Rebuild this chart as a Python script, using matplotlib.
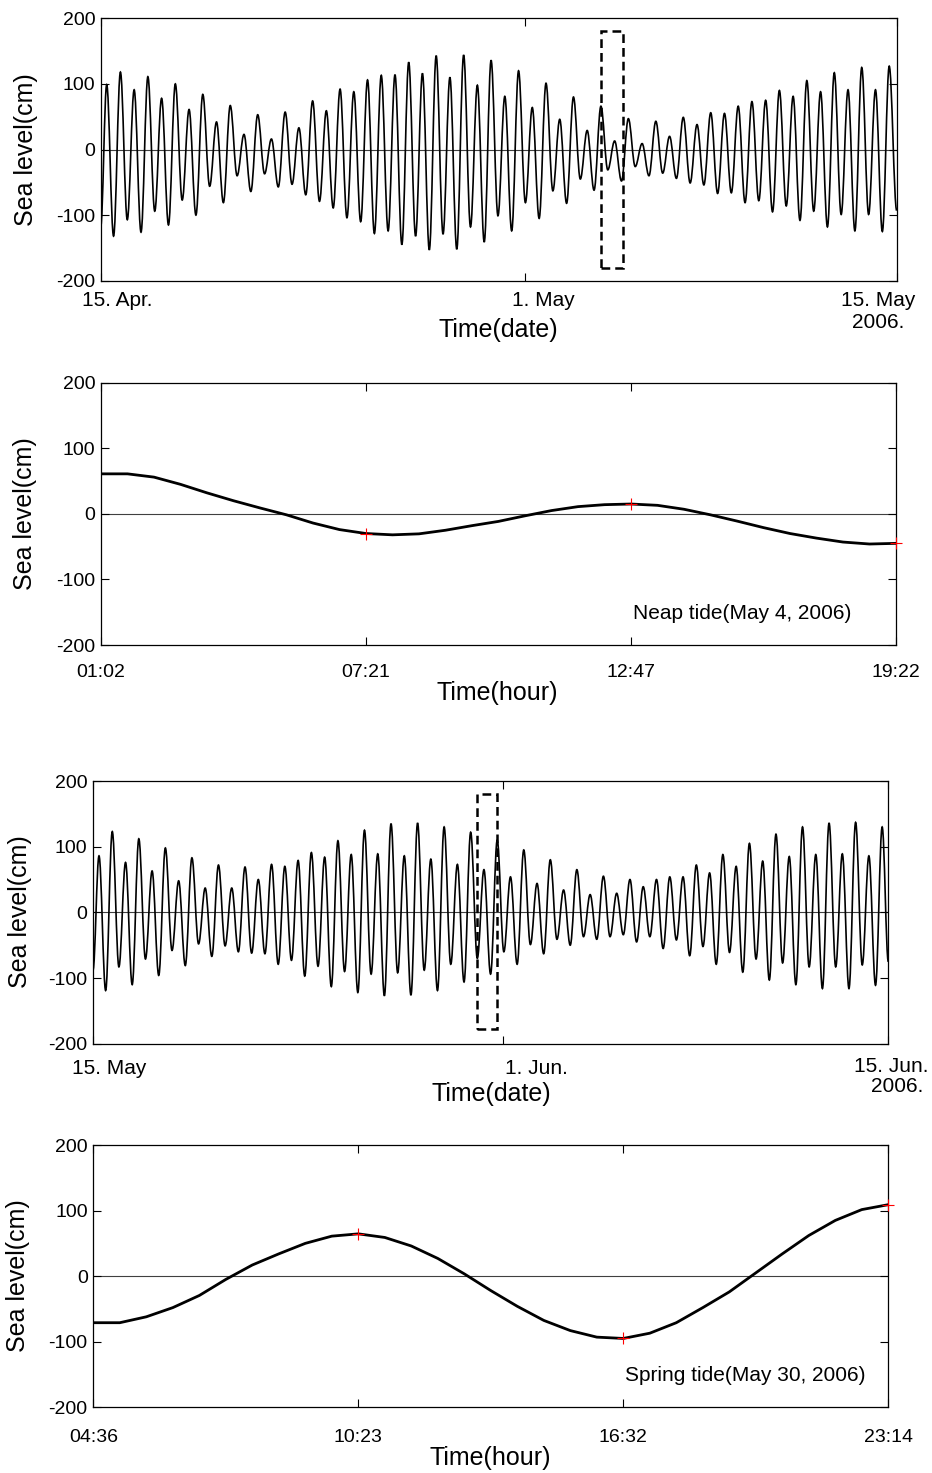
import numpy as np
import matplotlib
matplotlib.use("Agg")
import matplotlib.pyplot as plt
from matplotlib.patches import Rectangle, PathPatch
from matplotlib.path import Path

plt.rcParams['font.family'] = ['Liberation Sans', 'DejaVu Sans']
plt.rcParams['axes.unicode_minus'] = False

# ---------------- data ----------------
# Panel 1: 15 Apr - 15 May 2006, successive high/low water levels (cm)
p1_start, p1_end = -118, -93
p1_extrema = [99, -132, 118, -107, 91, -126, 111, -94, 78, -115, 100, -77, 61, -100,
              84, -56, 42, -81, 67, -40, 23, -64, 53, -37, 16, -57, 57, -53, 33, -69,
              74, -79, 59, -89, 92, -104, 88, -110, 106, -128, 113, -124, 114, -145,
              133, -132, 116, -153, 143, -129, 110, -152, 144, -118, 98,
              -141, 136, -101, 81, -124, 120, -81, 64, -105, 101, -63, 46, -82, 80,
              -45, 29, -62, 66, -31, 13, -48, 47, -26, 9, -40, 43, -36, 20, -44, 49,
              -51, 38, -54, 56, -67, 55, -66, 66, -81, 73, -78, 75, -95, 90, -86, 81,
              -108, 105, -94, 88, -118, 117, -99, 91, -124, 125, -99, 91, -125, 127]
p1_first_day = 0.226          # day of first extremum after 15 Apr 00:00
p1_days = 30
p1_ticklabels = ['15. Apr.', '1. May', '15. May', '2006.']
p1_box = (18.85, 19.68, -180, 180)   # neap-tide window (days, cm)

# Panel 3: 15 May - 15 Jun 2006
p3_start, p3_end = -88, -75
p3_extrema = [86, -119, 123, -83, 76, -110, 112, -71, 63, -96, 98, -58, 48, -81, 83,
              -48, 37, -67, 72, -51, 37, -60, 69, -62, 50, -63, 73, -79, 70, -73, 79,
              -97, 91, -82, 84, -113, 109, -90, 88, -122, 125, -94, 89, -127, 135, -92,
              86, -126, 136, -88, 81, -119, 130, -79, 73, -106, 122,
              -70, 65, -94, 110, -60, 54, -79, 95, -49, 44, -63, 80, -41, 34, -50, 65,
              -37, 27, -41, 55, -37, 29, -34, 50, -45, 39, -37, 50, -55, 54, -42, 54,
              -66, 72, -52, 60, -79, 88, -61, 70, -91, 105, -71, 78, -103, 119, -77, 85,
              -110, 130, -83, 88, -116, 136, -83, 89, -116, 137, -80, 86, -111, 130]
p3_first_day = 0.234
p3_days = 31
p3_ticklabels = ['15. May', '1. Jun.', '15. Jun.', '2006.']
p3_box = (14.96, 15.76, -178, 180)

half_period_days = 0.2587     # spacing of successive high/low waters

# Panel 2: neap tide, May 4 2006 (samples)
p2_values = [61, 61, 56, 45, 32, 20, 9, -1.5, -14, -24, -30, -32, -30.5, -25, -18,
             -11.5, -3, 5, 11, 14, 15, 13, 7, -1.5, -11, -21, -30, -37, -43, -46, -45]
p2_ticklabels = ['01:02', '07:21', '12:47', '19:22']
p2_marks = [10, 20, 30]

# Panel 4: spring tide, May 30 2006 (samples)
p4_values = [-71, -71, -62, -48, -29.5, -5, 17, 34, 50, 61, 64.5, 59, 46, 27, 3.5,
             -22, -46, -67.5, -83, -93, -95, -87, -71, -48, -24, 5, 34, 62, 85, 101.5, 109]
p4_ticklabels = ['04:36', '10:23', '16:32', '23:14']
p4_marks = [10, 20, 30]

yticks = [-200, -100, 0, 100, 200]

# ---------------- figure ----------------
W, H = 932, 1473
fig = plt.figure(figsize=(W / 100, H / 100), dpi=100)


def rect(l, t, r, b):
    return [l / W, 1 - b / H, (r - l) / W, (b - t) / H]


def ftxt(x, y, s, **kw):
    fig.text(x / W, 1 - y / H, s, ha='center', va='center', **kw)


TICK_FS = 14
DATE_FS = 15
LAB_FS = 18


def style(ax):
    ax.set_ylim(-200, 200)
    ax.set_yticks(yticks)
    ax.tick_params(direction='in', length=5.5, width=0.8, top=True, right=True,
                   labelsize=TICK_FS, pad=4)
    for s in ax.spines.values():
        s.set_linewidth(0.9)
    ax.axhline(0, color='0.25', lw=0.8, zorder=1)


def label_axes(ax, xlab, xl_xy, yl_xy):
    ax.set_xlabel(xlab, fontsize=LAB_FS)
    ax.xaxis.set_label_coords(xl_xy[0] / W, 1 - xl_xy[1] / H, transform=fig.transFigure)
    ax.xaxis.label.set_va('center')
    ax.set_ylabel('Sea level(cm)', fontsize=LAB_FS)
    ax.yaxis.set_label_coords(yl_xy[0] / W, 1 - yl_xy[1] / H, transform=fig.transFigure)
    ax.yaxis.label.set_va('center')


def tide_path(t, v, k=0.364):
    """Smooth curve through successive high/low waters (horizontal tangents)."""
    verts = [(t[0], v[0])]
    codes = [Path.MOVETO]
    for i in range(len(t) - 1):
        dt = t[i + 1] - t[i]
        verts += [(t[i] + k * dt, v[i]), (t[i + 1] - k * dt, v[i + 1]), (t[i + 1], v[i + 1])]
        codes += [Path.CURVE4] * 3
    return Path(verts, codes)


def date_panel(ax, start, extrema, end, first_day, ndays, box):
    ext = np.asarray(extrema, dtype=float)
    t_ext = first_day + half_period_days * np.arange(len(ext))
    t = np.concatenate([[0.0], t_ext, [ndays]])
    v = np.concatenate([[start], ext, [end]])
    ax.add_patch(PathPatch(tide_path(t, v), fill=False, ec='k', lw=1.2, zorder=3))
    ax.set_xlim(0, ndays)
    ax.set_xticks([0, 16, ndays])
    ax.tick_params(labelbottom=False)
    x0, x1, y0, y1 = box
    ax.add_patch(Rectangle((x0, y0), x1 - x0, y1 - y0, fill=False, ec='k', lw=1.8,
                           ls=(0, (3.5, 2)), zorder=4, joinstyle='miter'))
    style(ax)


def hour_panel(ax, values, ticklabels, marks, text, pad):
    v = np.asarray(values, dtype=float)
    idx = np.arange(len(v))
    ax.plot(idx, v, color='k', lw=2.0, zorder=3)
    m = np.asarray(marks)
    ax.plot(idx[m], v[m], '+', color='red', ms=9, mew=0.8, zorder=5, clip_on=False)
    ax.set_xlim(0, len(v) - 1)
    ax.set_xticks(np.linspace(0, len(v) - 1, len(ticklabels)))
    ax.set_xticklabels(ticklabels)
    style(ax)
    ax.tick_params(axis='x', pad=pad)
    ax.text(0.669, 0.12, text, transform=ax.transAxes, fontsize=15, ha='left', va='center')


# Panel 1
ax1 = fig.add_axes(rect(100.7, 18.3, 896.7, 280.7))
date_panel(ax1, p1_start, p1_extrema, p1_end, p1_first_day, p1_days, p1_box)
ftxt(117, 300, p1_ticklabels[0], fontsize=DATE_FS)
ftxt(543, 300, p1_ticklabels[1], fontsize=DATE_FS)
ftxt(878, 300, p1_ticklabels[2], fontsize=DATE_FS)
ftxt(878, 323, p1_ticklabels[3], fontsize=DATE_FS)
label_axes(ax1, 'Time(date)', (498, 330), (26.5, 149.5))

# Panel 2
ax2 = fig.add_axes(rect(101, 382.7, 896, 645))
hour_panel(ax2, p2_values, p2_ticklabels, p2_marks, 'Neap tide(May 4, 2006)', 13.5)
label_axes(ax2, 'Time(hour)', (497, 693), (25.5, 514))

# Panel 3
ax3 = fig.add_axes(rect(93, 781, 888.3, 1043.7))
date_panel(ax3, p3_start, p3_extrema, p3_end, p3_first_day, p3_days, p3_box)
ftxt(109, 1069, p3_ticklabels[0], fontsize=DATE_FS)
ftxt(536, 1069, p3_ticklabels[1], fontsize=DATE_FS)
ftxt(891, 1066, p3_ticklabels[2], fontsize=DATE_FS)
ftxt(897, 1086, p3_ticklabels[3], fontsize=DATE_FS)
label_axes(ax3, 'Time(date)', (491, 1094), (20, 912))

# Panel 4
ax4 = fig.add_axes(rect(93.3, 1145, 888.3, 1407.3))
hour_panel(ax4, p4_values, p4_ticklabels, p4_marks, 'Spring tide(May 30, 2006)', 15.5)
label_axes(ax4, 'Time(hour)', (490, 1458), (18, 1276))

fig.savefig('out.png', dpi=100)
